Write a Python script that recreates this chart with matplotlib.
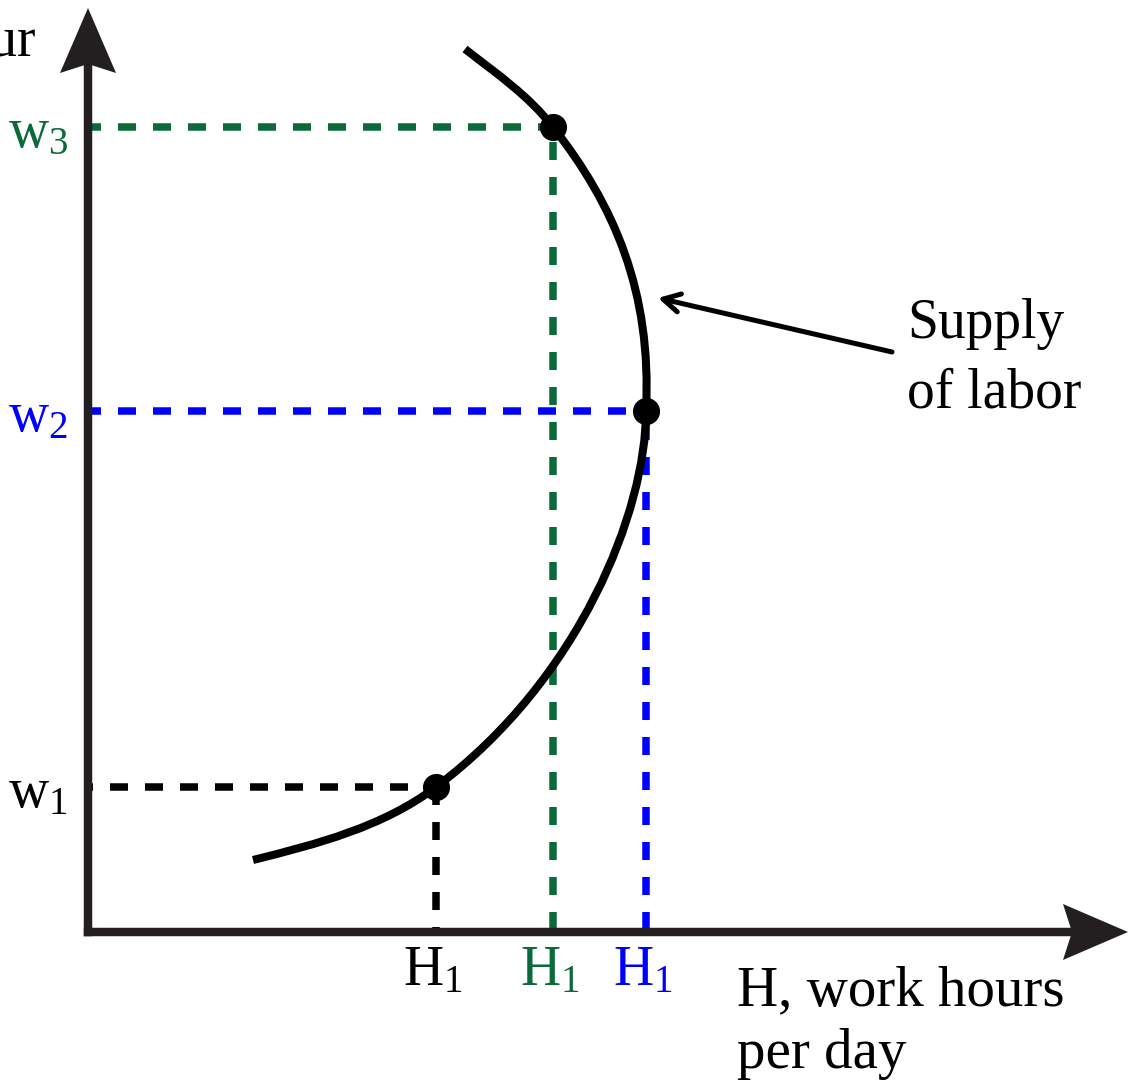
import matplotlib
matplotlib.use("Agg")
import matplotlib.pyplot as plt
from matplotlib.path import Path
from matplotlib.patches import PathPatch, Polygon

plt.rcParams["font.family"] = ["Liberation Serif", "DejaVu Serif"]
plt.rcParams["mathtext.fontset"] = "custom"
plt.rcParams["mathtext.rm"] = "Liberation Serif"

# ---- data (arbitrary diagram units: hours to the right, wage upward) ----
point_names = ["1", "3", "2"]
hours = [348, 465, 558]          # H at each marked point
wages = [145, 805, 521]          # w at each marked point
point_colors = ["#000000", "#0b6a3a", "#0000ff"]

# backward-bending labour supply curve as cubic Bezier vertices
supply_curve = [
    (165, 72),
    (229, 88), (295, 105), (348, 145),
    (492, 253), (558, 421), (558, 521),
    (564, 641), (526, 727), (465, 805),
    (440, 837), (409, 858), (377, 883),
]

x_label = "H, work hours"
x_label2 = "per day"
y_label = "w, wage per hour"
curve_label = ["Supply", "of labor"]

# ---- figure ----
W, H = 1129, 1090
fig = plt.figure(figsize=(W / 100, H / 100), dpi=100)
ax = fig.add_axes([0, 0, 1, 1])
ax.set_xlim(-88, W - 88)
ax.set_ylim(-158, H - 158)
ax.axis("off")

axis_color = "#231f20"
x_end, y_end = 1040, 924
head_len, head_half, notch = 65, 28, 9

# dashed guide lines
dash_lw = 5.4
on, off = 18 / 7.5, 17 / 7.5
h_offsets = [13 / 7.5, 5 / 7.5, 5 / 7.5]
for i in range(3):
    c = point_colors[i]
    ax.plot([0, hours[i]], [wages[i], wages[i]], color=c, lw=dash_lw,
            linestyle=(h_offsets[i], (on, off)), zorder=1)
    if i == 0:
        xs, ys, off_v = [hours[i], hours[i]], [wages[i], 0], 0
    else:
        xs, ys, off_v = [hours[i], hours[i]], [0, wages[i]], 33 / 7.5
    ax.plot(xs, ys, color=c, lw=dash_lw, linestyle=(off_v, (on, off)), zorder=1)

# axes with arrowheads
ax.plot([0, 0], [0, y_end - head_len + notch], color=axis_color, lw=6.1,
        solid_capstyle="projecting", zorder=2)
ax.plot([0, x_end - head_len + notch], [0, 0], color=axis_color, lw=6.1,
        solid_capstyle="projecting", zorder=2)
ax.add_patch(Polygon([(0, y_end), (head_half, y_end - head_len),
                      (0, y_end - head_len + notch), (-head_half, y_end - head_len)],
                     closed=True, color=axis_color, lw=0, zorder=2))
ax.add_patch(Polygon([(x_end, 0), (x_end - head_len, head_half),
                      (x_end - head_len + notch, 0), (x_end - head_len, -head_half)],
                     closed=True, color=axis_color, lw=0, zorder=2))

# supply curve
codes = [Path.MOVETO] + [Path.CURVE4] * (len(supply_curve) - 1)
ax.add_patch(PathPatch(Path(supply_curve, codes), facecolor="none",
                       edgecolor="black", lw=5.8, capstyle="butt", zorder=3))
ax.plot(hours, wages, "o", color="black", markersize=18.5, zorder=4)

# labels
fs = 40
for i in range(3):
    c = point_colors[i]
    ax.text(-20, wages[i] - 20, r"$\mathregular{w_%s}$" % point_names[i],
            color=c, fontsize=fs, ha="right", va="baseline")
    ax.text(hours[i] - 3, -53, r"$\mathregular{H_1}$", color=c,
            fontsize=fs, ha="center", va="baseline")

ax.text(649, -73, x_label, fontsize=41, ha="left", va="baseline")
ax.text(649, -136, x_label2, fontsize=41, ha="left", va="baseline")
ax.text(-52, 876, y_label, fontsize=fs, ha="right", va="baseline")
ax.text(819, 594, curve_label[0], fontsize=fs, ha="left", va="baseline")
ax.text(819, 525, curve_label[1], fontsize=fs, ha="left", va="baseline")

ax.annotate("", xy=(570, 634), xytext=(804, 580),
            arrowprops=dict(arrowstyle="->,head_length=0.6,head_width=0.33",
                            lw=3.6, color="black", mutation_scale=20,
                            shrinkA=0, shrinkB=0))

fig.savefig("out.png", dpi=100)
